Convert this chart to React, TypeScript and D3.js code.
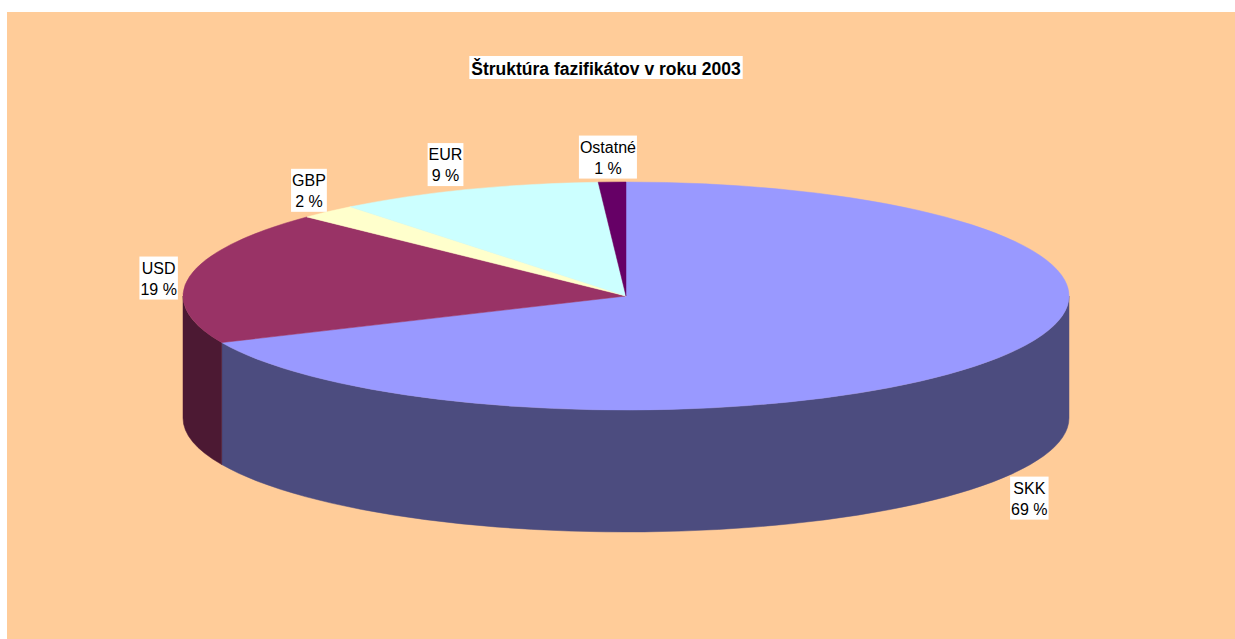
import React, { useEffect, useRef } from "react";
import * as d3 from "d3";

const title = "Štruktúra fazifikátov v roku 2003";
const categories = ["SKK", "USD", "GBP", "EUR", "Ostatné"];
const shares = [68.3, 18.9, 2.1, 9.7, 1.0];
const percentLabels = ["69 %", "19 %", "2 %", "9 %", "1 %"];
const topColors = ["#9999FF", "#993366", "#FFFFCC", "#CCFFFF", "#660066"];
const sideColors = ["#4C4C7F", "#4C1933", "#7F7F66", "#667F7F", "#330033"];
// small layout nudges for label boxes [dx, dy]
const labelNudges: [number, number][] = [[0.5, -2], [5.5, 0], [6, -2], [-8, 1.5], [-3, 4]];

const W = 1235;
const H = 639;
const FONT = "'Liberation Sans', Arial, sans-serif";

export default function App() {
  const ref = useRef<SVGSVGElement | null>(null);

  useEffect(() => {
    const svg = d3.select(ref.current);
    svg.selectAll("*").remove();

    svg.append("rect").attr("x", 7).attr("y", 12).attr("width", W - 7).attr("height", H - 12).attr("fill", "#FFCC99");

    const cx = 626, cy = 296, rx = 443, ry = 114, depth = 122;
    const pt = (a: number, yOff = 0): [number, number] => [cx + rx * Math.sin(a), cy - ry * Math.cos(a) + yOff];

    const pie = d3.pie<number>().sort(null).value((d) => d);
    const arcs = pie(shares);

    const g = svg.append("g");
    arcs.forEach((a, i) => {
      const s = Math.max(a.startAngle, Math.PI / 2);
      const e = Math.min(a.endAngle, (3 * Math.PI) / 2);
      if (e <= s) return;
      const p0 = pt(s), p1 = pt(e), q1 = pt(e, depth), q0 = pt(s, depth);
      const large = e - s > Math.PI ? 1 : 0;
      const d = `M${p0[0]},${p0[1]} A${rx},${ry} 0 ${large} 1 ${p1[0]},${p1[1]} L${q1[0]},${q1[1]} A${rx},${ry} 0 ${large} 0 ${q0[0]},${q0[1]} Z`;
      g.append("path").attr("d", d).attr("fill", sideColors[i]).attr("stroke", sideColors[i]).attr("stroke-width", 0.5);
    });

    arcs.forEach((a, i) => {
      const p0 = pt(a.startAngle), p1 = pt(a.endAngle);
      const large = a.endAngle - a.startAngle > Math.PI ? 1 : 0;
      const d = `M${cx},${cy} L${p0[0]},${p0[1]} A${rx},${ry} 0 ${large} 1 ${p1[0]},${p1[1]} Z`;
      g.append("path").attr("d", d).attr("fill", topColors[i]).attr("stroke", topColors[i]).attr("stroke-width", 0.5);
    });

    const tg = svg.append("g");
    const tbox = tg.append("rect").attr("fill", "#FFFFFF");
    const tt = tg.append("text")
      .attr("x", 606).attr("y", 75)
      .attr("text-anchor", "middle")
      .attr("font-family", FONT).attr("font-size", 17.5).attr("font-weight", "bold")
      .attr("fill", "#000").text(title);
    const tw = (tt.node() as SVGTextElement).getComputedTextLength();
    tbox.attr("x", 606 - tw / 2 - 2).attr("y", 56).attr("width", tw + 4).attr("height", 23);

    const off = 37;
    arcs.forEach((a, i) => {
      const m = (a.startAngle + a.endAngle) / 2;
      const cosm = Math.cos(m);
      const lx = cx + (rx + off) * Math.sin(m) + labelNudges[i][0];
      const ly = cy - (ry + off) * cosm + (cosm < 0 ? depth : 8) + labelNudges[i][1];
      const lg = svg.append("g");
      const box = lg.append("rect").attr("fill", "#FFFFFF");
      const t1 = lg.append("text").attr("x", lx).attr("y", ly - 4.5).attr("text-anchor", "middle")
        .attr("font-family", FONT).attr("font-size", 16).attr("fill", "#000").text(categories[i]);
      const t2 = lg.append("text").attr("x", lx).attr("y", ly + 16.5).attr("text-anchor", "middle")
        .attr("font-family", FONT).attr("font-size", 16).attr("fill", "#000").text(percentLabels[i]);
      const w = Math.max((t1.node() as SVGTextElement).getComputedTextLength(), (t2.node() as SVGTextElement).getComputedTextLength());
      box.attr("x", lx - w / 2 - 1).attr("y", ly - 21.5).attr("width", w + 2).attr("height", 43);
    });
  }, []);

  return (
    <svg ref={ref} width={W} height={H} style={{ position: "absolute", left: 0, top: 0, display: "block" }} />
  );
}
